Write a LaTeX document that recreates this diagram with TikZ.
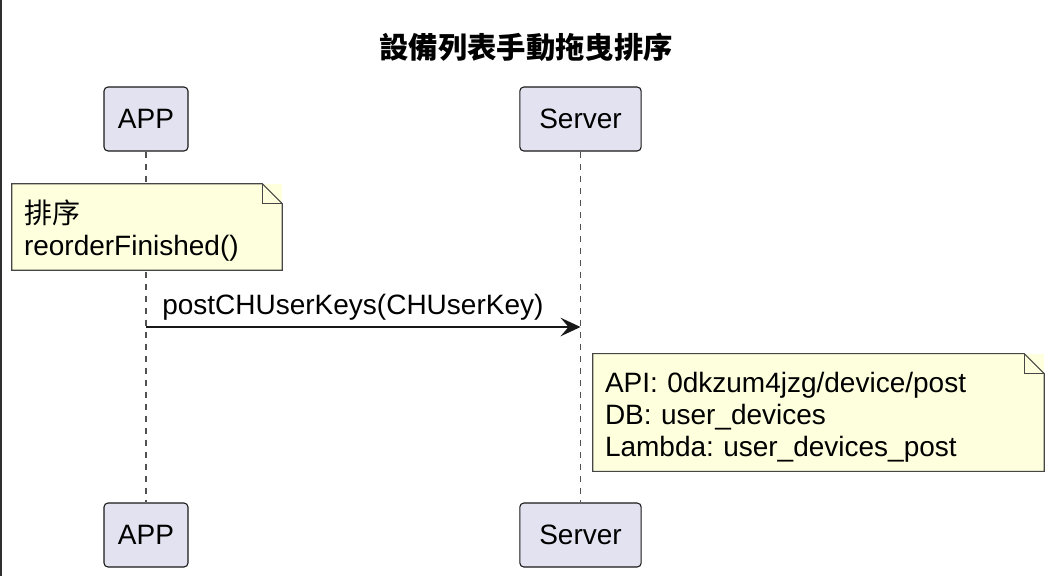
\documentclass[tikz,border=0pt]{standalone}
\usepackage{fontspec}
\setmainfont{Liberation Sans}
\newfontfamily\cjkfont{Noto Sans CJK TC}
\usetikzlibrary{arrows.meta}
\definecolor{partfill}{HTML}{E2E2F0}
\definecolor{notefill}{HTML}{FEFFDD}
\definecolor{edgecol}{HTML}{181818}
\frenchspacing
\begin{document}
\begin{tikzpicture}[x=0.75pt, y=-0.75pt,
  every node/.style={font=\fontsize{21}{24}\selectfont},
  part/.style={draw=edgecol,fill=partfill,rounded corners=3pt,line width=0.8pt,minimum height=48pt,inner sep=0pt},
  note/.style={fill=notefill,inner sep=0pt},
  notetext/.style={align=left,inner sep=0pt},
  noteline/.style={draw=edgecol!80,line width=0.8pt},
  life/.style={draw=edgecol!75,line width=0.8pt,dash pattern=on 5pt off 4pt},
  msg/.style={draw=edgecol,line width=1.1pt,-{Stealth[length=15pt,width=14pt,inset=6pt]}}]
\useasboundingbox (0,0) rectangle (1052,576);
\draw[edgecol!90,line width=1.5pt] (1,0) -- (1,576);
\node[font=\fontsize{22}{24}\selectfont\cjkfont\bfseries] (title) at (526,47) {設備列表手動拖曳排序};
% participants
\node[part,minimum width=63pt] (apptop) at (146,119) {APP};
\node[part,minimum width=91pt] (srvtop) at (580.5,119) {Server};
\node[part,minimum width=63pt] (appbot) at (146,535) {APP};
\node[part,minimum width=91pt] (srvbot) at (580.5,535) {Server};
\draw[life] (apptop) -- (appbot);
\draw[life] (srvtop) -- (srvbot);
% note on APP
\node[note,minimum width=202.5pt,minimum height=64.5pt] (sortnote) at (147,227) {};
\draw[noteline] (sortnote.south west) -- (sortnote.north west) -- ([xshift=-15pt]sortnote.north east)
  -- ([yshift=-15pt]sortnote.north east) -- (sortnote.south east) -- cycle;
\draw[noteline] ([xshift=-15pt]sortnote.north east) |- ([yshift=-15pt]sortnote.north east);
\node[notetext,text width=184.5pt] (sorttext) at ([yshift=-3pt]sortnote.center) {{\cjkfont 排序}\\reorderFinished()};
% message
\coordinate (msgfrom) at (146,327);
\coordinate (msgto) at (580.5,327);
\draw[msg] (msgfrom) -- (msgto);
\node[anchor=south west,inner sep=0pt] (msglabel) at ([xshift=12pt,yshift=5pt]msgfrom) {postCHUserKeys(CHUserKey)};
% note on Server
\node[note,minimum width=338.25pt,minimum height=88pt] (apinote) at (818.5,412.5) {};
\draw[noteline] (apinote.south west) -- (apinote.north west) -- ([xshift=-15pt]apinote.north east)
  -- ([yshift=-15pt]apinote.north east) -- (apinote.south east) -- cycle;
\draw[noteline] ([xshift=-15pt]apinote.north east) |- ([yshift=-15pt]apinote.north east);
\node[notetext,text width=320.25pt] (apitext) at ([yshift=-3.5pt]apinote.center) {API: 0dkzum4jzg/device/post\\DB: user\_devices\\Lambda: user\_devices\_post};
\end{tikzpicture}
\end{document}
